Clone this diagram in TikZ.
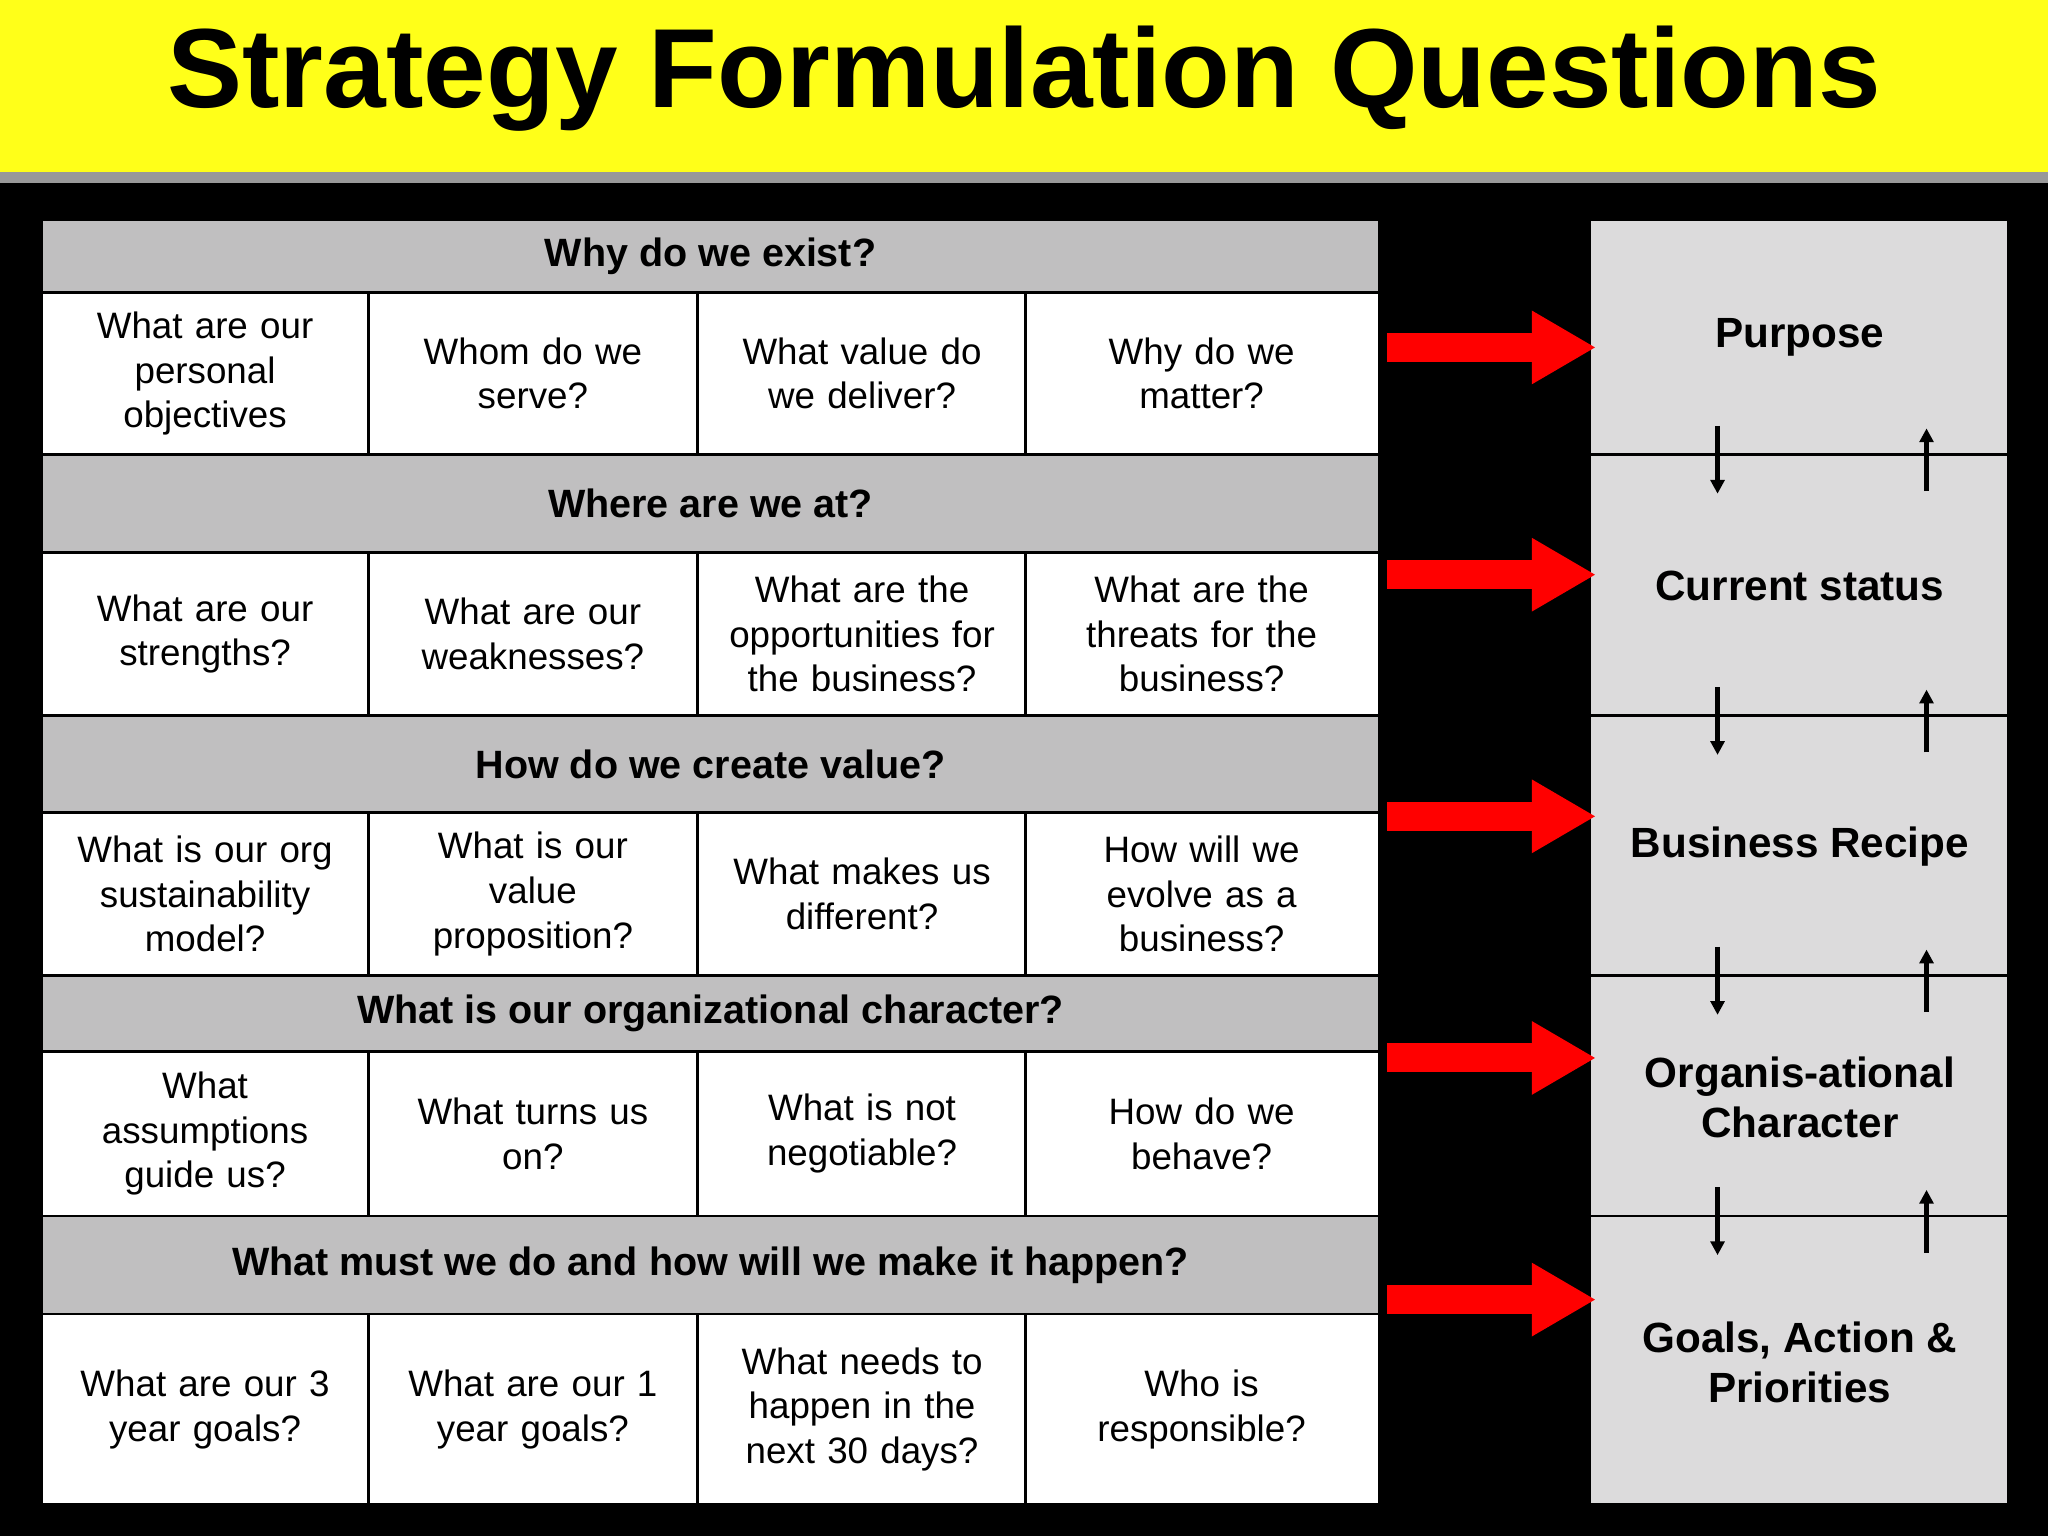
\documentclass[tikz,border=0pt]{standalone}
\usepackage{fontspec}
\setmainfont{Liberation Sans}
\usetikzlibrary{arrows.meta}
\definecolor{ttl}{HTML}{FFFF19}
\definecolor{hdr}{HTML}{C0BFC0}
\definecolor{pane}{HTML}{DCDBDC}
\definecolor{arr}{HTML}{FF0000}
\tikzset{
 cell/.style={draw=black,line width=0.6pt,fill=white,inner sep=0pt,align=center,font=\fontsize{8}{9.7}\selectfont,text width=2.3cm},
 hd/.style={draw=black,line width=0.6pt,fill=hdr,inner sep=0pt,align=center,font=\fontsize{8.6}{10}\selectfont\bfseries},
 pn/.style={draw=black,line width=0.6pt,fill=pane,inner sep=0pt},
 lab/.style={align=center,font=\fontsize{9.2}{10.8}\selectfont\bfseries},
 red/.style={draw=arr,line width=6.3pt,-{Triangle[length=14pt,width=15pt]}},
 sm/.style={draw=black,line width=0.9pt,-{Triangle[length=3pt,width=3pt]}}
}
\begin{document}
\begin{tikzpicture}[x=0.01cm,y=-0.01cm]
\fill[black] (0,0) rectangle (1568,1176);
\fill[ttl] (0,0) rectangle (1568,132);
\fill[gray!80] (0,132) rectangle (1568,140);
\node (title) at (784,60) {\fontsize{24.5}{28}\selectfont\bfseries Strategy Formulation Questions};
% headers
\def\hdrow#1#2#3#4{\path[hd] (32,#2) rectangle (1056,#3); \node[font=\fontsize{8.6}{10}\selectfont\bfseries] (#1) at (544,{(#2+#3)/2}) {#4};}
\hdrow{h1}{168}{224}{Why do we exist?}
\hdrow{h2}{348}{423}{Where are we at?}
\hdrow{h3}{548}{622}{How do we create value?}
\hdrow{h4}{747}{805}{What is our organizational character?}
\hdrow{h5}{931}{1006}{What must we do and how will we make it happen?}
% cells
\def\crow#1#2#3#4#5#6#7{%
\path[cell] (32,#2) rectangle (282,#3); \path[cell] (282,#2) rectangle (534,#3);
\path[cell] (534,#2) rectangle (785,#3); \path[cell] (785,#2) rectangle (1056,#3);
\node[cell,draw=none,fill=none] (#1a) at (157,{(#2+#3)/2}) {#4};
\node[cell,draw=none,fill=none] (#1b) at (408,{(#2+#3)/2}) {#5};
\node[cell,draw=none,fill=none] (#1c) at (660,{(#2+#3)/2}) {#6};
\node[cell,draw=none,fill=none] (#1d) at (920,{(#2+#3)/2}) {#7};}
\crow{r1}{224}{348}{What are our\\personal\\objectives}{Whom do we\\serve?}{What value do\\we deliver?}{Why do we\\matter?}
\crow{r2}{423}{548}{What are our\\strengths?}{What are our\\weaknesses?}{What are the\\opportunities for\\the business?}{What are the\\threats for the\\business?}
\crow{r3}{622}{747}{What is our org\\sustainability\\model?}{What is our\\value\\proposition?}{What makes us\\different?}{How will we\\evolve as a\\business?}
\crow{r4}{805}{931}{What\\assumptions\\guide us?}{What turns us\\on?}{What is not\\negotiable?}{How do we\\behave?}
\crow{r5}{1006}{1152}{What are our 3\\year goals?}{What are our 1\\year goals?}{What needs to\\happen in the\\next 30 days?}{Who is\\responsible?}
% right panel
\path[pn] (1217,168) rectangle (1538,348);
\path[pn] (1217,348) rectangle (1538,548);
\path[pn] (1217,548) rectangle (1538,747);
\path[pn] (1217,747) rectangle (1538,931);
\path[pn] (1217,931) rectangle (1538,1152);
\node[lab] (p1) at (1378,258) {Purpose};
\node[lab] (p2) at (1378,449) {Current status};
\node[lab] (p3) at (1378,648) {Business Recipe};
\node[lab] (p4) at (1378,840) {Organis-ational\\Character};
\node[lab] (p5) at (1378,1043) {Goals, Action \&\\Priorities};
% red arrows
\foreach \y [count=\i] in {266,440,625,810,995}{
 \coordinate (rs\i) at (1062,\y); \coordinate (re\i) at (1222,\y);
 \draw[red] (rs\i) -- (re\i);}
% small arrows
\foreach \y [count=\i] in {348,548,747,931}{
 \coordinate (da\i) at (1315,\y-22); \coordinate (db\i) at (1315,\y+30);
 \coordinate (ua\i) at (1475,\y+28); \coordinate (ub\i) at (1475,\y-20);
 \draw[sm] (da\i) -- (db\i); \draw[sm] (ua\i) -- (ub\i);}
\end{tikzpicture}
\end{document}
